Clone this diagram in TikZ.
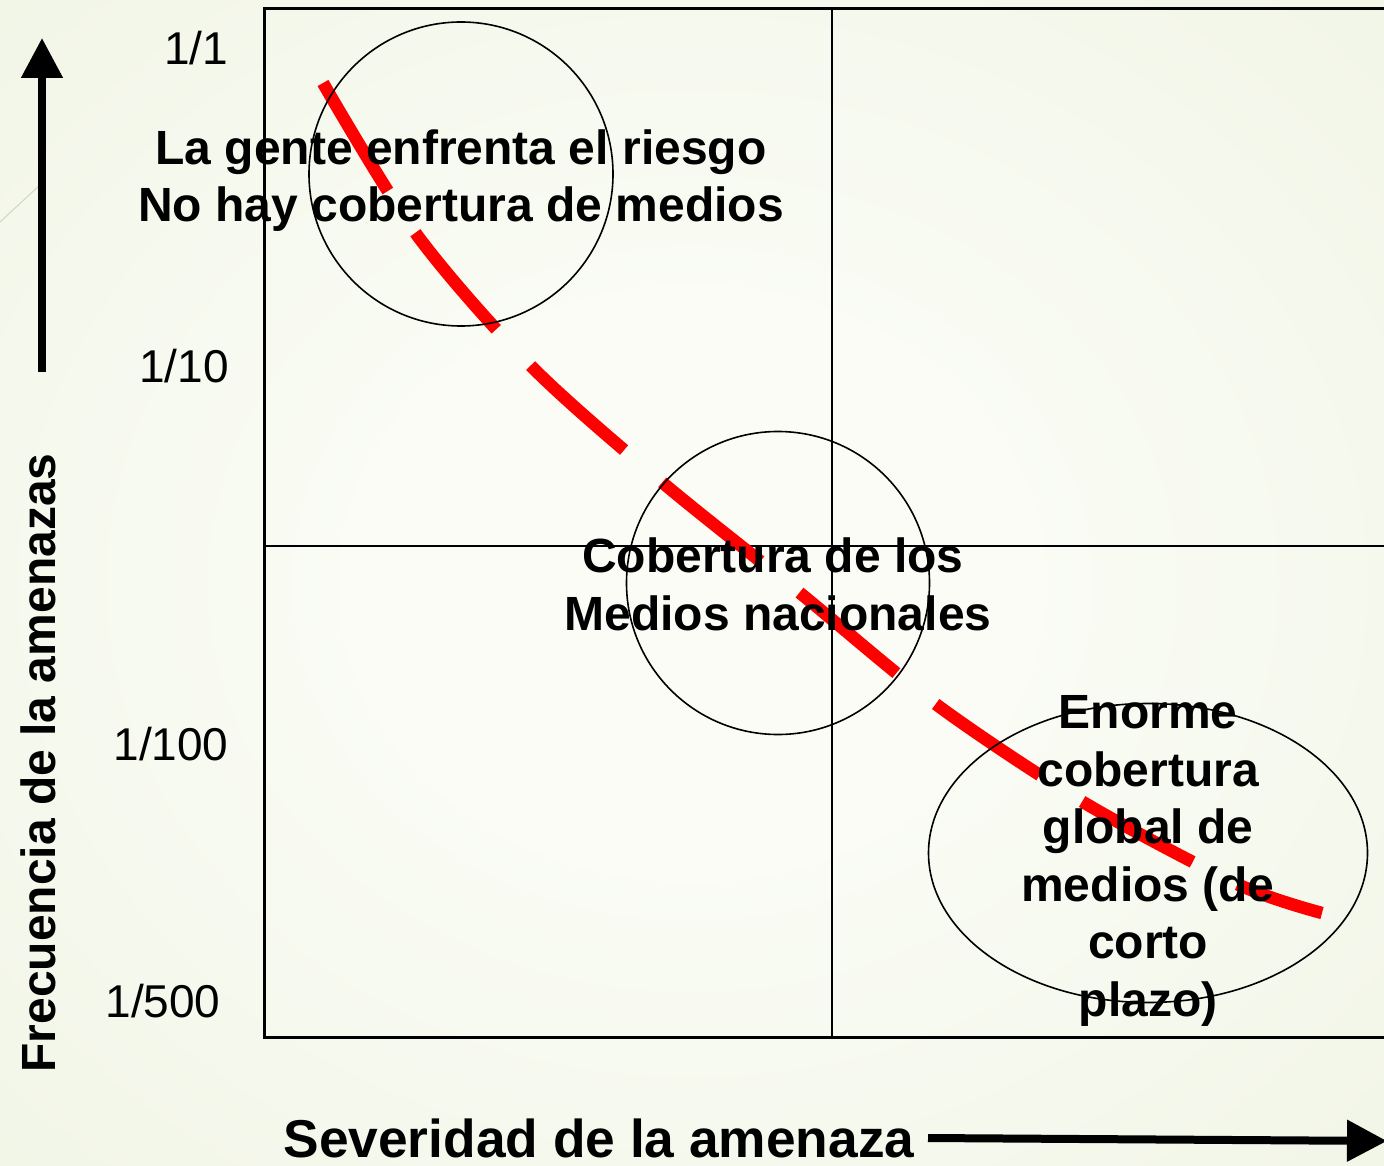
\documentclass[tikz,border=0pt]{standalone}
\usepackage{fontspec}
\setmainfont{Liberation Sans}
\usetikzlibrary{arrows.meta,shapes.geometric}
\definecolor{bgin}{HTML}{FAFCF5}
\definecolor{bgmid}{HTML}{EEF3E1}
\definecolor{bgout}{HTML}{E2E9CE}
\definecolor{bgline}{HTML}{D0D7BE}
\pgfdeclareradialshading{bgshade}{\pgfpoint{0bp}{0bp}}{color(0bp)=(bgin); color(12bp)=(bgin); color(45bp)=(bgmid); color(72bp)=(bgout)}
\begin{document}
\begin{tikzpicture}[x=1pt,y=-1pt,
  frame/.style={line width=3pt},
  divider/.style={line width=2pt},
  ring/.style={draw, line width=1.6pt, inner sep=0pt},
  risk/.style={draw=red, line width=12.5pt, dash pattern=on 126pt off 50pt},
  axisarrow/.style={line width=8pt, -{Triangle[length=40pt,width=40pt]}},
  lbl/.style={font=\fontsize{48}{57.5}\selectfont\bfseries, anchor=base, inner sep=0pt},
  tick/.style={font=\fontsize{46}{52}\selectfont, anchor=base, inner sep=0pt},
]
\useasboundingbox (0,0) rectangle (1384,1166);
\clip (0,0) rectangle (1384,1166);
\shade[shading=bgshade] (0,0) rectangle (1384,1166);
\coordinate (d0) at (0,222);
\coordinate (d1) at (40,185);
\draw[bgline, line width=1pt] (d0) -- (d1);

% frame
\coordinate (TL) at (264,9);
\coordinate (TR) at (1400,9);
\coordinate (BL) at (264,1037);
\coordinate (BR) at (1400,1037);
\coordinate (MT) at (832,9);
\coordinate (MB) at (832,1037);
\coordinate (ML) at (264,546);
\coordinate (MR) at (1400,546);
\draw[frame] (TR) -- (TL) -- (BL) -- (BR);
\draw[divider] (MT) -- (MB);
\draw[divider] (ML) -- (MR);

% red dashed trend
\draw[risk] plot[smooth, tension=0.5] coordinates {(323,83) (417,235) (532,367) (663,483) (800,593) (937,705) (1083,802) (1237,884) (1322,913)};

% circles
\node[ring, circle, minimum size=304pt] (c1) at (461,174) {};
\node[ring, circle, minimum size=303pt] (c2) at (778,583) {};
\node[ring, ellipse, minimum width=439pt, minimum height=299pt] (c3) at (1148,853) {};

% tick labels
\node[tick] (t1) at (196,65) {1/1};
\node[tick] (t10) at (184,382) {1/10};
\node[tick] (t100) at (171,760) {1/100};
\node[tick] (t500) at (163,1017) {1/500};

% quadrant texts
\node[lbl] (a1) at (461,165) {La gente enfrenta el riesgo};
\node[lbl] (a2) at (461,222) {No hay cobertura de medios};
\node[lbl] (b1) at (773,572) {Cobertura de los};
\node[lbl] (b2) at (778,630) {Medios nacionales};
\node[lbl] (e1) at (1148,728) {Enorme};
\node[lbl] (e2) at (1148,786) {cobertura};
\node[lbl] (e3) at (1148,843) {global de};
\node[lbl] (e4) at (1148,901) {medios (de};
\node[lbl] (e5) at (1148,958) {corto};
\node[lbl] (e6) at (1148,1016) {plazo)};

% axes
\node[lbl, rotate=90] (ylab) at (55,763) {Frecuencia de la amenazas};
\node[lbl, font=\fontsize{53.3}{60}\selectfont\bfseries] (xlab) at (599,1157) {Severidad de la amenaza};
\coordinate (ya0) at (42,372);
\coordinate (ya1) at (42,38);
\draw[axisarrow] (ya0) -- (ya1);
\coordinate (xa0) at (928,1138);
\coordinate (xa1) at (1387,1141);
\draw[axisarrow] (xa0) -- (xa1);
\end{tikzpicture}
\end{document}
